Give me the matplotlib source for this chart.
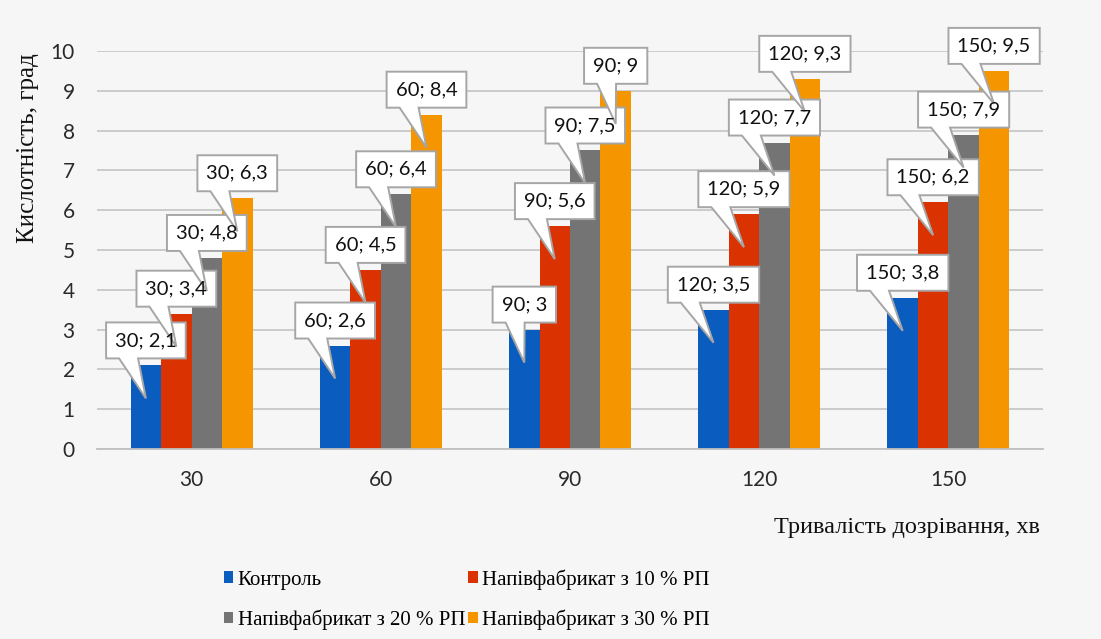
import numpy as np
import matplotlib.pyplot as plt
from matplotlib.patches import Polygon
from matplotlib.transforms import IdentityTransform

# дані
cats = [30, 60, 90, 120, 150]
control = [2.1, 2.6, 3.0, 3.5, 3.8]
rp10 = [3.4, 4.5, 5.6, 5.9, 6.2]
rp20 = [4.8, 6.4, 7.5, 7.7, 7.9]
rp30 = [6.3, 8.4, 9.0, 9.3, 9.5]
names = ['Контроль', 'Напівфабрикат з 10 % РП',
         'Напівфабрикат з 20 % РП', 'Напівфабрикат з 30 % РП']
colors = ['#0B5CBF', '#DA3200', '#747474', '#F59500']

bg = '#f6f6f6'
fig = plt.figure(figsize=(11.01, 6.39), dpi=100)
fig.patch.set_facecolor(bg)
ax = fig.add_axes([97/1101, 190/639, 946/1101, 398/639])
ax.set_facecolor(bg)

x = np.arange(len(cats))
w = 0.161
series = [control, rp10, rp20, rp30]
bars = []
for i, (vals, c) in enumerate(zip(series, colors)):
    b = ax.bar(x + (i - 1.5) * w, vals, w, color=c, label=names[i], zorder=2)
    bars.append(b)

ax.set_xlim(-0.5, len(cats) - 0.5)
ax.set_ylim(0, 10)
ax.set_yticks(range(0, 11))
ax.set_xticks(x)
ax.set_xticklabels([str(c) for c in cats])
ax.yaxis.grid(True, color='#c8c8c8', lw=1.3, zorder=0)
ax.set_axisbelow(True)
for s in ['left', 'right', 'top']:
    ax.spines[s].set_visible(False)
ax.spines['bottom'].set_color('#c0c0c0')
ax.spines['bottom'].set_linewidth(1.3)
ax.tick_params(length=0, labelsize=15, labelcolor='#2a2a2a')
ax.tick_params(axis='y', pad=16)
ax.tick_params(axis='x', pad=15)
for lab in ax.get_xticklabels() + ax.get_yticklabels():
    lab.set_family('Lato')

fig.text(28/1101, 1 - 148/639, 'Кислотність, град', rotation=90,
         ha='center', va='center', family='Liberation Serif', size=18, color='#111111')
fig.text(1040/1101, 1 - 527/639, 'Тривалість дозрівання, хв',
         ha='right', va='center', family='Liberation Serif', size=17.5, color='#111111')

# підписи-виноски
texts = []
for i, vals in enumerate(series):
    for j, v in enumerate(vals):
        xc = x[j] + (i - 1.5) * w
        lab = '%d; %s' % (cats[j], ('%g' % v).replace('.', ','))
        t = ax.annotate(lab, xy=(xc, v), xytext=(0, 25), textcoords='offset pixels',
                        ha='center', va='center', fontsize=14.5, family='Lato',
                        color='#111111', zorder=6, annotation_clip=False)
        texts.append((t, xc, v))

h = ax.legend([bars[0], bars[2], bars[1], bars[3]],
              [names[0], names[2], names[1], names[3]],
              ncol=2, frameon=False, loc='upper left',
              bbox_to_anchor=(224/1101, 1 - 569/639), bbox_transform=fig.transFigure,
              prop={'family': 'Liberation Serif', 'size': 15},
              handlelength=0.45, handleheight=0.45, handletextpad=0.2,
              columnspacing=0.15, labelspacing=0.95, borderpad=0, borderaxespad=0)

fig.canvas.draw()
for t, xc, v in texts:
    bb = t.get_window_extent()
    px, py = ax.transData.transform((xc, v))
    cx = (bb.x0 + bb.x1) / 2
    L = cx - bb.width / 2 - 9
    R = cx + bb.width / 2 + 9
    B = py + 7
    T = B + 36
    pts = [(L, B), (L + 13, B), (px, py - 33), (L + 32, B), (R, B), (R, T), (L, T)]
    poly = Polygon(pts, closed=True, fc='white', ec='#a6a6a6', lw=1.4,
                   transform=IdentityTransform(), zorder=4)
    ax.add_patch(poly)
    poly.set_clip_on(False)

fig.savefig('out.png', dpi=100, facecolor=bg)
